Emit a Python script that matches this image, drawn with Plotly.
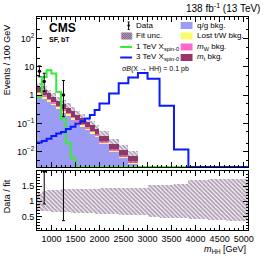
import numpy as np
import plotly.graph_objects as go

# ---------------- data ----------------
edges = [700, 800, 900, 1000, 1100, 1200, 1300, 1400, 1500, 1600, 1700, 1800, 1900,
         2000, 2200, 2400, 2600, 2800, 3000, 3250, 3550, 3850, 4250, 4650, 5100]

# background components (events / 100 GeV)
bkg_qg   = [1.0, 0.75, 0.57, 0.43, 0.32, 0.24, 0.18, 0.135, 0.10, 0.076, 0.057, 0.043, 0.032,
            0.018, 0.0095, 0.0058, 0.0036, 0, 0, 0, 0, 0, 0, 0]
bkg_lost = [0.2, 0.15, 0.115, 0.085, 0.065, 0.048, 0.036, 0.027, 0.02, 0.015, 0.0115, 0.0086, 0.0064,
            0.0036, 0.0019, 0.0012, 0.0007, 0, 0, 0, 0, 0, 0, 0]
bkg_mw   = [0.1, 0.075, 0.057, 0.043, 0.032, 0.024, 0.018, 0.0135, 0.01, 0.0076, 0.0057, 0.0043, 0.0032,
            0.0018, 0.00095, 0.0006, 0.00036, 0, 0, 0, 0, 0, 0, 0]
bkg_mt   = [0.7, 0.53, 0.4, 0.3, 0.22, 0.17, 0.126, 0.095, 0.07, 0.053, 0.04, 0.03, 0.022,
            0.013, 0.0067, 0.004, 0.0025, 0, 0, 0, 0, 0, 0, 0]

# relative fit uncertainty band (low / high)
unc_lo = [0.70, 0.68, 0.68, 0.67, 0.67, 0.66, 0.66, 0.64, 0.64, 0.63, 0.63, 0.62, 0.61,
          0.60, 0.59, 0.57, 0.56, 0.55, 0.50, 0.48, 0.45, 0.42, 0.39, 0.38]
unc_hi = [1.30, 1.36, 1.38, 1.40, 1.40, 1.44, 1.44, 1.42, 1.42, 1.42, 1.41, 1.41, 1.44,
          1.46, 1.47, 1.45, 1.45, 1.46, 1.55, 1.56, 1.60, 1.72, 1.77, 1.76]

# signals
sig_1tev = [0.9, 4.4, 7.6, 5.8, 1.3, 0.14, 0.02, 0.006, 0, 0, 0, 0, 0,
            0, 0, 0, 0, 0, 0, 0, 0, 0, 0, 0]
sig_3tev = [0.021, 0.024, 0.029, 0.036, 0.044, 0.050, 0.063, 0.076, 0.10, 0.12, 0.15, 0.20, 0.30,
            0.51, 1.15, 2.6, 4.2, 6.1, 3.8, 0.42, 0.012, 0, 0, 0]

# observed data
data_mass   = [750, 850, 1250]
data_val    = [7, 3, 1]
data_err_lo = [2.58, 1.63, 0.827]
data_err_hi = [3.77, 2.92, 2.30]

x_ticks = [1000, 1500, 2000, 2500, 3000, 3500, 4000, 4500, 5000]
y_tickvals = [0.01, 0.1, 1, 10, 100]
y_ticktext = ["10<sup>−2</sup>", "10<sup>−1</sup>", "1", "10", "10<sup>2</sup>"]

# ---------------- derived ----------------
e = np.array(edges, float)
centers = 0.5 * (e[1:] + e[:-1])
widths = e[1:] - e[:-1]
comps = [("q/g bkg.", bkg_qg, "#9c9cf5"),
         ("Lost t/W bkg.", bkg_lost, "#fbfb6a"),
         ("m_W bkg.", bkg_mw, "#ff66cc"),
         ("m_t bkg.", bkg_mt, "#993366")]
total = np.sum([np.array(c[1], float) for c in comps], axis=0)
ylog = [-2.54, 2.76]
yfloor = 10 ** ylog[0]

fig = go.Figure()
base = np.zeros(len(centers))
for name, vals, col in comps:
    v = np.array(vals, float)
    m = v > 0
    fig.add_trace(go.Bar(x=centers[m], y=v[m], base=np.where(base[m] > 0, base[m], 1e-6), width=widths[m],
                         marker=dict(color=col, line=dict(width=0)), opacity=1,
                         showlegend=False, xaxis="x", yaxis="y"))
    base = base + v

pat = dict(shape="\\", fgcolor="#684570", bgcolor="rgba(0,0,0,0)", size=3, solidity=0.65,
           fillmode="overlay")
lo = np.array(unc_lo)
hi = np.array(unc_hi)
m = total > 0
fig.add_trace(go.Bar(x=centers[m], y=(total * (hi - lo))[m], base=(total * lo)[m], width=widths[m],
                     marker=dict(color="rgba(0,0,0,0)", pattern=pat, line=dict(width=0)),
                     showlegend=False, xaxis="x", yaxis="y"))


def step(vals):
    v = np.array(vals, float)
    v = np.where(v > 0, v, yfloor)
    return list(e), list(v) + [v[-1]]


for vals, col in [(sig_1tev, "#33ee33"), (sig_3tev, "#0a1aff")]:
    sx, sy = step(vals)
    fig.add_trace(go.Scatter(x=sx, y=sy, mode="lines", line=dict(color=col, width=2, shape="hv"),
                             showlegend=False, xaxis="x", yaxis="y"))

fig.add_trace(go.Scatter(x=data_mass, y=data_val, mode="markers",
                         marker=dict(color="black", size=3.5),
                         error_y=dict(type="data", symmetric=False, array=data_err_hi,
                                      arrayminus=data_err_lo, color="black", thickness=1, width=1.5),
                         showlegend=False, xaxis="x", yaxis="y"))

# ratio panel
fig.add_trace(go.Bar(x=centers, y=hi - lo, base=lo, width=widths,
                     marker=dict(color="rgba(0,0,0,0)", pattern=pat, line=dict(width=0)),
                     showlegend=False, xaxis="x2", yaxis="y2"))
idx = np.searchsorted(e, data_mass) - 1
tot_d = total[idx]
fig.add_trace(go.Scatter(x=data_mass, y=np.array(data_val) / tot_d, mode="markers",
                         marker=dict(color="black", size=3.5),
                         error_y=dict(type="data", symmetric=False,
                                      array=np.array(data_err_hi) / tot_d,
                                      arrayminus=np.array(data_err_lo) / tot_d,
                                      color="black", thickness=1, width=1.5),
                         showlegend=False, xaxis="x2", yaxis="y2"))

# ---------------- layout ----------------
W, H = 266, 256
L, R, T, B = 37, 250, 17, 230


def px(x):
    return (x - L) / (R - L)


def py(y):
    return (B - y) / (B - T)


FONT = "Liberation Sans, Arial, sans-serif"
axis_common = dict(showline=True, linecolor="black", linewidth=1, mirror="allticks",
                   ticks="inside", ticklen=5, tickcolor="black", showgrid=False, zeroline=False,
                   tickfont=dict(size=9, color="black", family=FONT))
xr = [700, 5090]
fig.update_layout(
    width=W, height=H, margin=dict(l=L, r=W - R, t=T, b=H - B, pad=0),
    paper_bgcolor="white", plot_bgcolor="white", barmode="overlay", bargap=0,
    font=dict(family=FONT, color="black"),
    xaxis=dict(domain=[0, 1], anchor="y", range=xr, tickvals=x_ticks, showticklabels=False,
               minor=dict(ticks="inside", ticklen=2.5, dtick=100, tick0=0, tickcolor="black"),
               **axis_common),
    yaxis=dict(domain=[py(167), 1], anchor="x", type="log", range=ylog,
               tickvals=y_tickvals, ticktext=y_ticktext,
               minor=dict(ticks="inside", ticklen=2.5, tickcolor="black"),
               **axis_common),
    xaxis2=dict(domain=[0, 1], anchor="y2", range=xr, tickvals=x_ticks,
                ticktext=[str(t) for t in x_ticks],
                minor=dict(ticks="inside", ticklen=2.5, dtick=100, tick0=0, tickcolor="black"),
                **axis_common),
    yaxis2=dict(domain=[0, py(170.5)], anchor="x2", range=[0.05, 2.02],
                tickvals=[0.5, 1, 1.5], ticktext=["0.5", "1", "1.5"],
                minor=dict(ticks="inside", ticklen=2.5, dtick=0.1, tick0=0, tickcolor="black"),
                **axis_common),
)

ann = []


def text(x, y, s, size=8, xa="left", ya="middle", angle=0, bold=False):
    if bold:
        s = "<b>" + s + "</b>"
    ann.append(dict(x=px(x), y=py(y), xref="paper", yref="paper", text=s, showarrow=False,
                    xanchor=xa, yanchor=ya, textangle=angle,
                    font=dict(size=size, color="black", family=FONT)))


text(47, 28, "CMS", size=12, bold=True)
text(47, 40, "SF, bT", size=7, bold=True)
text(264, 8, "138 fb<sup>-1</sup> (13 TeV)", size=10, xa="right")
text(7, 60, "Events / 100 GeV", size=9, xa="center", angle=-90)
text(7, 196, "Data / fit", size=9, xa="center", angle=-90)
text(250, 249, "<i>m</i><sub>HH</sub> [GeV]", size=9, xa="right")

shapes = []


def rect(x0, y0, x1, y1, col, lw=0, lc=None):
    shapes.append(dict(type="rect", xref="paper", yref="paper", x0=px(x0), x1=px(x1),
                       y0=py(y1), y1=py(y0), fillcolor=col,
                       line=dict(width=lw, color=lc or col)))


def seg(x0, y0, x1, y1, col, lw):
    shapes.append(dict(type="line", xref="paper", yref="paper", x0=px(x0), x1=px(x1),
                       y0=py(y0), y1=py(y1), line=dict(color=col, width=lw)))


# left legend column
rows = [25.5, 36, 47, 57.5]
seg(129.5, 22, 129.5, 29.5, "black", 1)
seg(128.5, 22, 130.5, 22, "black", 1)
seg(128.5, 29.5, 130.5, 29.5, "black", 1)
shapes.append(dict(type="circle", xref="paper", yref="paper", x0=px(128.3), x1=px(130.7),
                   y0=py(26.7), y1=py(24.3), fillcolor="black", line=dict(width=0)))
text(135, rows[0], "Data")
# hatched box
bx0, by0, bx1, by1 = 122, 32.5, 133, 39.5
rect(bx0, by0, bx1, by1, "#cdbccd")
for c in np.arange(by0 - bx1, by1 - bx0, 2.0):
    xa_ = max(bx0, by0 - c)
    xb_ = min(bx1, by1 - c)
    if xb_ > xa_:
        seg(xa_, xa_ + c, xb_, xb_ + c, "#684570", 1)
text(135, rows[1], "Fit unc.")
seg(121, rows[2], 133, rows[2], "#33ee33", 2)
text(135, rows[2], "1 TeV X<sub>spin-0</sub>")
seg(121, rows[3], 133, rows[3], "#0a1aff", 2)
text(135, rows[3], "3 TeV X<sub>spin-0</sub>")
text(121, 68.5, "σ<i>B</i>(X → HH) = 0.1 pb", size=7)

# right legend column
for r, (name, vals, col) in zip(rows, comps):
    rect(182, r - 3.5, 194, r + 3.5, col)
labels = ["q/g bkg.", "Lost t/W bkg.", "<i>m</i><sub>W</sub> bkg.", "<i>m</i><sub>t</sub> bkg."]
for r, lab in zip(rows, labels):
    text(197, r, lab)

fig.update_layout(annotations=ann, shapes=shapes)
fig.write_html("out.html", config={"displayModeBar": False},
               post_script="document.body.style.margin='0px';")
